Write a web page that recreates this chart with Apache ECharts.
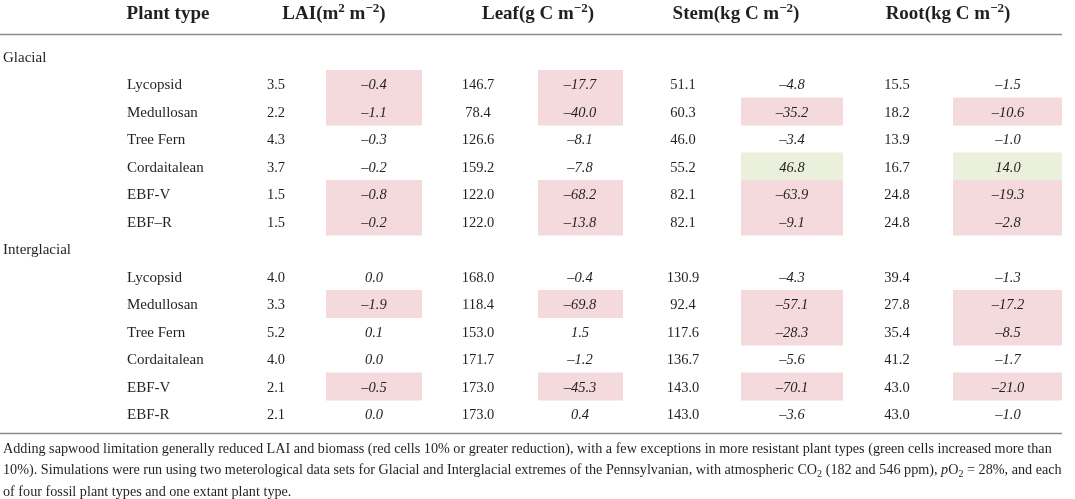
<!DOCTYPE html>
<html>
<head>
<meta charset="utf-8">
<script src="https://cdn.jsdelivr.net/npm/echarts@6/dist/echarts.min.js"></script>
<style>
  html, body { margin: 0; padding: 0; background: #fff; }
  #main { width: 1075px; height: 499px; }
</style>
</head>
<body>
<div id="main"></div>
<script>
////////////////////////////////////
// table data
let groupNames = ['Glacial', 'Interglacial'];
let plantGlacial = ['Lycopsid', 'Medullosan', 'Tree Fern', 'Cordaitalean', 'EBF-V', 'EBF–R'];
let plantInter = ['Lycopsid', 'Medullosan', 'Tree Fern', 'Cordaitalean', 'EBF-V', 'EBF-R'];

// Glacial: value, change
let laiG = [3.5, 2.2, 4.3, 3.7, 1.5, 1.5];
let laiDiffG = [-0.4, -1.1, -0.3, -0.2, -0.8, -0.2];
let leafG = [146.7, 78.4, 126.6, 159.2, 122.0, 122.0];
let leafDiffG = [-17.7, -40.0, -8.1, -7.8, -68.2, -13.8];
let stemG = [51.1, 60.3, 46.0, 55.2, 82.1, 82.1];
let stemDiffG = [-4.8, -35.2, -3.4, 46.8, -63.9, -9.1];
let rootG = [15.5, 18.2, 13.9, 16.7, 24.8, 24.8];
let rootDiffG = [-1.5, -10.6, -1.0, 14.0, -19.3, -2.8];

// Interglacial: value, change
let laiI = [4.0, 3.3, 5.2, 4.0, 2.1, 2.1];
let laiDiffI = [0.0, -1.9, 0.1, 0.0, -0.5, 0.0];
let leafI = [168.0, 118.4, 153.0, 171.7, 173.0, 173.0];
let leafDiffI = [-0.4, -69.8, 1.5, -1.2, -45.3, 0.4];
let stemI = [130.9, 92.4, 117.6, 136.7, 143.0, 143.0];
let stemDiffI = [-4.3, -57.1, -28.3, -5.6, -70.1, -3.6];
let rootI = [39.4, 27.8, 35.4, 41.2, 43.0, 43.0];
let rootDiffI = [-1.3, -17.2, -8.5, -1.7, -21.0, -1.0];

let headers = ['Plant type', 'LAI(m{sup|2} m{sup|−2})', 'Leaf(g C m{sup|−2})', 'Stem(kg C m{sup|−2})', 'Root(kg C m{sup|−2})'];
let footLines = [
    'Adding sapwood limitation generally reduced LAI and biomass (red cells 10% or greater reduction), with a few exceptions in more resistant plant types (green cells increased more than',
    '10%). Simulations were run using two meterological data sets for Glacial and Interglacial extremes of the Pennsylvanian, with atmospheric CO{sub|2} (182 and 546 ppm), {it|p}O{sub|2} = 28%, and each',
    'of four fossil plant types and one extant plant type.'
];

////////////////////////////////////
// layout (x axis units == px)
let layout = {
    groupX: 3,
    plantX: 127,
    colX: [276, 374, 478, 580, 683, 792, 897, 1008],
    boxX: [null, [326, 422], null, [538, 623], null, [741, 843], null, [953, 1062]],
    headX: [168, 334, 538, 736, 948],
    headY: 14,
    textDy: 1.5,
    ruleTop: 34.5,
    ruleBottom: 433.5,
    ruleRight: 1062,
    footY: [449, 470.5, 492]
};
let ink = '#231f20';
let serif = '"Liberation Serif", "DejaVu Serif", serif';

/////////////////////////////////////////////////////////////////////////////////////////////////
// build rows: group label row followed by its plant rows
let rows = [];
[[plantGlacial, [laiG, laiDiffG, leafG, leafDiffG, stemG, stemDiffG, rootG, rootDiffG]],
 [plantInter, [laiI, laiDiffI, leafI, leafDiffI, stemI, stemDiffI, rootI, rootDiffI]]].forEach((g, gi) => {
    rows.push({ kind: 'group', label: groupNames[gi] });
    g[0].forEach((name, i) => {
        rows.push({ kind: 'plant', label: name, vals: g[1].map(a => a[i]) });
    });
});

function fmt(v) {
    let s = Math.abs(v).toFixed(1);
    return v < 0 ? '–' + s : s;
}

let cells = []; // [colIdx, rowIdx, colour]
let texts = []; // {x, row, text, align, italic, name}
rows.forEach((r, ri) => {
    if (r.kind === 'group') {
        texts.push({ x: layout.groupX, row: ri, text: r.label, align: 'left', name: true });
        return;
    }
    texts.push({ x: layout.plantX, row: ri, text: r.label, align: 'left', name: true });
    r.vals.forEach((v, ci) => {
        texts.push({ x: layout.colX[ci], row: ri, text: fmt(v), align: 'center', italic: ci % 2 == 1 });
        if (ci % 2 == 1) {
            let ratio = v / r.vals[ci - 1]; // red >= 10% reduction, green > 10% increase
            if (ratio <= -0.1) cells.push([ci, ri, '#f4dadd']);
            else if (ratio >= 0.1) cells.push([ci, ri, '#ebf0dd']);
        }
    });
});

let chart = echarts.init(document.getElementById('main'), null, { renderer: 'canvas' });

let option = {
    animation: false,
    backgroundColor: '#fff',
    grid: { left: 0, right: 0, top: 42.5, height: 385 },
    xAxis: { type: 'value', min: 0, max: 1075, show: false },
    yAxis: {
        type: 'category', inverse: true, show: false,
        data: rows.map((r, i) => String(i))
    },
    series: [{
        type: 'custom',
        clip: false,
        data: cells.map(c => [c[0], c[1]]),
        renderItem: (params, api) => {
            let c = cells[params.dataIndex];
            let b = layout.boxX[c[0]];
            let p0 = api.coord([b[0], c[1]]);
            let p1 = api.coord([b[1], c[1]]);
            let h = api.size([0, 1])[1];
            return {
                type: 'rect',
                shape: { x: p0[0], y: p0[1] - h / 2, width: p1[0] - p0[0], height: h + 0.5 },
                style: { fill: c[2] }
            };
        }
    }, {
        type: 'custom',
        clip: false,
        data: texts.map(t => [t.x, t.row]),
        renderItem: (params, api) => {
            let t = texts[params.dataIndex];
            let p = api.coord([t.x, t.row]);
            return {
                type: 'text',
                x: p[0], y: p[1] + layout.textDy,
                style: {
                    text: t.text,
                    fill: ink,
                    align: t.align,
                    verticalAlign: 'middle',
                    font: (t.italic ? 'italic ' : '') + (t.name ? '15px ' : '14.5px ') + serif
                }
            };
        }
    }]
};
chart.setOption(option);

// header, rules and footnote placed on the same x scale
let px = v => chart.convertToPixel({ xAxisIndex: 0 }, v);
let g = [];
headers.forEach((h, i) => {
    g.push({
        type: 'text', x: px(layout.headX[i]), y: layout.headY,
        style: {
            text: h, fill: ink, align: 'center', verticalAlign: 'middle',
            font: 'bold 19px ' + serif,
            rich: { sup: { font: 'bold 13px ' + serif, verticalAlign: 'top', fill: ink, padding: [0, 0, 10, 0] } }
        }
    });
});
[layout.ruleTop, layout.ruleBottom].forEach(y => {
    g.push({
        type: 'line',
        shape: { x1: px(0), y1: y, x2: px(layout.ruleRight), y2: y },
        style: { stroke: '#8c8c8c', lineWidth: 1.5 }
    });
});
footLines.forEach((l, i) => {
    g.push({
        type: 'text', x: px(3), y: layout.footY[i],
        style: {
            text: l, fill: ink, align: 'left', verticalAlign: 'middle',
            font: '14.2px ' + serif,
            rich: {
                sub: { font: '10px ' + serif, fill: ink, padding: [7, 0, 0, 0] },
                it: { font: 'italic 14.2px ' + serif, fill: ink }
            }
        }
    });
});
chart.setOption({ graphic: g });
</script>
</body>
</html>
